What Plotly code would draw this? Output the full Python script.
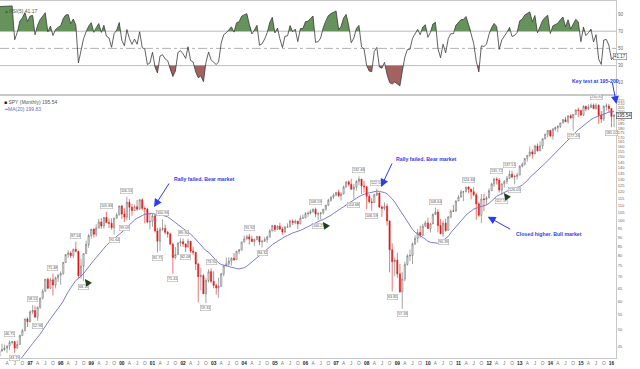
import numpy as np
import pandas as pd
import plotly.graph_objects as go

# ---------------- data (SPY monthly, dividend-adjusted) ----------------
months = pd.date_range("1995-01-01", periods=254, freq="MS")

opens = [
    30.95, 31.71, 32.90, 33.87, 34.90, 36.22, 37.04, 38.31, 38.38, 39.97, 39.83, 41.53,
    42.31, 43.76, 44.12, 44.54, 45.14, 46.17, 46.41, 44.54, 45.57, 48.25, 49.72, 53.60,
    52.66, 56.05, 56.54, 54.21, 57.70, 61.16, 63.91, 69.00, 65.12, 68.68, 66.49, 69.55,
    70.74, 71.56, 76.70, 80.65, 81.49, 80.06, 83.34, 82.41, 70.46, 74.95, 81.08, 85.99,
    90.96, 94.82, 91.82, 95.45, 99.14, 96.72, 102.06, 98.86, 98.37, 95.63, 101.67, 103.68,
    109.76, 104.31, 102.28, 112.45, 109.00, 106.69, 109.31, 107.60, 114.21, 108.17, 107.70, 99.15,
    99.62, 103.13, 93.74, 87.78, 94.59, 95.19, 92.87, 91.93, 86.15, 79.16, 80.65, 86.83,
    87.54, 86.29, 84.55, 87.78, 82.49, 81.85, 76.02, 70.10, 70.54, 62.86, 68.38, 72.38,
    68.05, 66.32, 65.28, 65.90, 71.34, 75.06, 76.01, 77.34, 78.83, 77.99, 82.37, 83.07,
    87.40, 89.13, 90.33, 88.97, 87.59, 88.76, 90.47, 87.47, 87.78, 88.72, 90.08, 93.67,
    96.95, 94.62, 96.53, 94.80, 93.13, 96.03, 96.14, 99.72, 98.84, 99.66, 98.01, 101.71,
    101.74, 104.58, 104.76, 106.05, 107.47, 104.28, 104.41, 105.07, 107.56, 110.34, 113.95, 116.11,
    117.72, 119.66, 117.19, 118.50, 123.78, 127.96, 125.98, 122.10, 123.82, 128.33, 130.21, 124.71,
    124.08, 116.77, 112.83, 112.30, 117.78, 119.17, 109.06, 108.11, 109.68, 99.84, 83.12, 77.07,
    77.86, 71.36, 63.66, 69.10, 75.76, 79.96, 80.16, 86.31, 89.41, 92.81, 91.19, 96.63,
    98.57, 95.15, 97.97, 103.96, 105.62, 97.06, 92.04, 98.48, 94.02, 102.37, 106.26, 106.25,
    113.31, 116.13, 120.11, 120.12, 123.82, 122.14, 120.17, 117.86, 111.29, 103.52, 114.80, 114.47,
    115.57, 121.00, 126.19, 130.29, 129.45, 121.47, 126.41, 128.27, 130.95, 134.36, 131.90, 132.41,
    133.63, 141.27, 143.14, 148.45, 151.45, 154.75, 152.76, 160.65, 155.79, 160.76, 168.10, 173.18,
    177.45, 171.31, 179.07, 180.49, 181.99, 186.01, 189.94, 187.47, 194.73, 192.10, 196.48, 202.00,
    201.36, 195.51, 206.66, 203.27, 205.42, 208.21, 203.83, 208.07, 195.44, 190.66, 206.69, 207.21,
    203.98, 193.72,
]
highs = [
    31.81, 33.01, 34.10, 34.92, 36.26, 37.47, 38.44, 38.66, 40.08, 40.21, 41.64, 42.73,
    43.83, 45.75, 45.54, 45.33, 46.75, 46.60, 46.50, 46.70, 48.51, 50.34, 53.67, 54.18,
    56.61, 58.51, 58.28, 57.96, 61.36, 64.91, 69.05, 69.58, 69.60, 71.48, 70.11, 71.30,
    72.49, 76.83, 80.89, 82.83, 82.35, 83.72, 87.54, 82.51, 78.56, 81.40, 88.16, 92.06,
    94.85, 95.06, 97.72, 101.13, 101.64, 102.45, 105.86, 101.47, 101.54, 101.68, 105.26, 110.03,
    110.55, 108.16, 116.53, 114.68, 111.22, 110.85, 114.08, 114.76, 115.28, 109.56, 108.43, 104.80,
    104.42, 104.03, 95.55, 96.06, 100.96, 97.62, 93.81, 92.64, 86.93, 84.62, 87.10, 89.44,
    89.30, 86.41, 89.20, 87.86, 84.91, 82.02, 76.44, 74.15, 71.24, 69.48, 73.51, 73.92,
    72.54, 67.05, 69.62, 71.89, 75.17, 79.17, 79.35, 79.14, 81.43, 82.63, 83.45, 87.45,
    91.01, 91.37, 91.92, 90.97, 89.34, 90.88, 90.60, 88.25, 90.03, 91.02, 94.80, 97.36,
    97.56, 97.20, 98.69, 95.96, 96.80, 98.37, 100.68, 100.85, 100.89, 100.12, 103.46, 103.99,
    105.72, 106.09, 107.29, 108.08, 108.59, 105.54, 105.34, 107.75, 110.68, 114.95, 116.64, 118.86,
    119.89, 121.78, 119.93, 125.17, 128.33, 129.14, 130.55, 126.34, 129.35, 132.46, 130.17, 128.78,
    124.59, 118.47, 115.38, 118.75, 122.54, 119.71, 110.21, 112.35, 111.62, 100.13, 86.60, 79.22,
    81.56, 75.95, 72.05, 77.08, 80.91, 83.36, 87.05, 91.02, 94.91, 96.89, 98.08, 99.89,
    101.98, 98.72, 104.90, 108.64, 107.54, 101.09, 100.13, 101.25, 103.07, 107.40, 110.52, 113.80,
    117.66, 121.63, 120.77, 124.03, 124.46, 122.49, 123.76, 119.42, 112.55, 118.44, 118.61, 116.71,
    122.90, 127.33, 131.26, 131.72, 131.26, 126.49, 129.46, 132.85, 137.51, 137.39, 134.08, 135.68,
    142.39, 144.68, 148.52, 151.49, 160.10, 157.30, 161.82, 163.13, 165.39, 168.91, 173.96, 177.60,
    177.88, 179.79, 181.62, 183.25, 186.15, 190.80, 193.42, 194.98, 196.65, 196.57, 202.73, 204.79,
    202.27, 208.18, 207.81, 209.41, 210.70, 210.35, 210.92, 209.40, 200.69, 208.14, 210.75, 209.98,
    204.20, 196.68,
]
lows = [
    30.94, 31.66, 32.54, 33.80, 34.70, 36.11, 36.94, 37.77, 38.24, 39.05, 39.72, 41.45,
    41.07, 43.48, 43.75, 43.19, 44.02, 45.53, 43.19, 44.40, 45.56, 48.22, 49.70, 50.91,
    52.55, 55.27, 54.13, 52.98, 57.18, 60.65, 63.77, 64.73, 64.82, 62.16, 65.08, 67.80,
    66.58, 70.91, 76.57, 78.94, 78.83, 78.94, 81.77, 69.18, 69.28, 68.12, 81.07, 84.14,
    89.29, 89.87, 90.38, 95.19, 94.96, 95.02, 98.73, 95.43, 94.38, 91.64, 101.08, 103.61,
    101.05, 99.09, 100.10, 100.49, 103.19, 106.41, 106.48, 107.38, 106.93, 98.33, 98.40, 94.61,
    96.26, 92.84, 81.71, 82.59, 93.61, 91.70, 89.79, 85.96, 71.41, 78.23, 80.39, 84.94,
    84.60, 82.08, 84.40, 81.50, 80.46, 73.11, 59.60, 64.22, 62.84, 59.31, 67.48, 67.29,
    65.10, 62.55, 61.31, 65.90, 70.27, 74.90, 75.13, 75.15, 77.60, 77.93, 80.93, 82.77,
    87.15, 88.53, 85.87, 87.56, 85.22, 88.26, 85.59, 84.32, 87.48, 86.95, 90.17, 93.84,
    93.16, 94.64, 94.11, 91.53, 92.37, 95.87, 96.23, 97.28, 97.73, 94.84, 97.76, 101.39,
    101.72, 102.50, 103.85, 104.96, 102.21, 100.23, 100.74, 104.03, 106.55, 109.74, 112.74, 114.79,
    116.73, 116.29, 113.76, 118.24, 123.39, 124.36, 121.99, 114.68, 120.95, 125.14, 118.47, 119.57,
    107.57, 111.68, 106.59, 112.63, 116.84, 108.37, 102.36, 106.70, 96.98, 72.07, 63.85, 70.25,
    69.55, 63.30, 57.18, 68.05, 75.17, 77.43, 75.95, 85.67, 87.10, 89.76, 90.76, 96.00,
    94.89, 92.69, 98.32, 104.13, 92.75, 91.80, 90.39, 93.18, 94.10, 101.65, 105.66, 106.95,
    113.20, 116.65, 113.16, 119.86, 119.13, 114.48, 117.01, 100.52, 102.57, 98.47, 106.30, 110.46,
    115.40, 121.23, 124.04, 125.75, 119.68, 117.57, 123.23, 126.15, 130.28, 131.04, 126.05, 129.77,
    133.50, 140.33, 142.00, 145.61, 150.04, 148.36, 152.86, 155.22, 156.11, 157.52, 167.54, 169.73,
    170.10, 167.37, 176.80, 175.23, 180.15, 185.56, 187.00, 185.17, 191.39, 177.26, 195.60, 192.96,
    194.82, 194.53, 200.43, 201.83, 204.32, 203.13, 202.15, 185.02, 185.89, 188.26, 201.09, 198.90,
    181.02, 181.09,
]
closes = [
    31.71, 32.90, 33.87, 34.90, 36.22, 37.04, 38.31, 38.38, 39.97, 39.83, 41.53, 42.31,
    43.76, 44.12, 44.54, 45.14, 46.17, 46.41, 44.54, 45.57, 48.25, 49.72, 53.60, 52.66,
    56.05, 56.54, 54.21, 57.70, 61.16, 63.91, 69.00, 65.12, 68.68, 66.49, 69.55, 70.74,
    71.56, 76.70, 80.65, 81.49, 80.06, 83.34, 82.41, 70.46, 74.95, 81.08, 85.99, 90.96,
    94.82, 91.82, 95.45, 99.14, 96.72, 102.06, 98.86, 98.37, 95.63, 101.67, 103.68, 109.76,
    104.31, 102.28, 112.45, 109.00, 106.69, 109.31, 107.60, 114.21, 108.17, 107.70, 99.15, 99.62,
    103.13, 93.74, 87.78, 94.59, 95.19, 92.87, 91.93, 86.15, 79.16, 80.65, 86.83, 87.54,
    86.29, 84.55, 87.78, 82.49, 81.85, 76.02, 70.10, 70.54, 62.86, 68.38, 72.38, 68.05,
    66.32, 65.28, 65.90, 71.34, 75.06, 76.01, 77.34, 78.83, 77.99, 82.37, 83.07, 87.40,
    89.13, 90.33, 88.97, 87.59, 88.76, 90.47, 87.47, 87.78, 88.72, 90.08, 93.67, 96.95,
    94.62, 96.53, 94.80, 93.13, 96.03, 96.14, 99.72, 98.84, 99.66, 98.01, 101.71, 101.74,
    104.58, 104.76, 106.05, 107.47, 104.28, 104.41, 105.07, 107.56, 110.34, 113.95, 116.11, 117.72,
    119.66, 117.19, 118.50, 123.78, 127.96, 125.98, 122.10, 123.82, 128.33, 130.21, 124.71, 124.08,
    116.77, 112.83, 112.30, 117.78, 119.17, 109.06, 108.11, 109.68, 99.84, 83.12, 77.07, 77.86,
    71.36, 63.66, 69.10, 75.76, 79.96, 80.16, 86.31, 89.41, 92.81, 91.19, 96.63, 98.57,
    95.15, 97.97, 103.96, 105.62, 97.06, 92.04, 98.48, 94.02, 102.37, 106.26, 106.25, 113.31,
    116.13, 120.11, 120.12, 123.82, 122.14, 120.17, 117.86, 111.29, 103.52, 114.80, 114.47, 115.57,
    121.00, 126.19, 130.29, 129.45, 121.47, 126.41, 128.27, 130.95, 134.36, 131.90, 132.41, 133.63,
    141.27, 143.14, 148.45, 151.45, 154.75, 152.76, 160.65, 155.79, 160.76, 168.10, 173.18, 177.45,
    171.31, 179.07, 180.49, 181.99, 186.01, 189.94, 187.47, 194.73, 192.10, 196.48, 202.00, 201.36,
    195.51, 206.66, 203.27, 205.42, 208.21, 203.83, 208.07, 195.44, 190.66, 206.69, 207.21, 203.98,
    193.72, 195.54,
]

# swing high / low labels shown on the chart (month, H=high / L=low)
swing_labels = [
    ("1996-05", "H"), ("1996-07", "L"), ("1997-02", "H"), ("1997-04", "L"), ("1997-10", "H"),
    ("1998-07", "H"), ("1998-10", "L"), ("1999-07", "H"), ("1999-10", "L"), ("2000-02", "L"),
    ("2000-03", "H"), ("2001-03", "L"), ("2001-05", "H"), ("2001-09", "L"), ("2002-01", "H"),
    ("2002-02", "L"), ("2002-10", "L"), ("2002-12", "H"), ("2004-03", "H"), ("2004-08", "L"),
    ("2006-05", "H"), ("2006-06", "L"), ("2007-08", "L"), ("2007-10", "H"), ("2008-03", "L"),
    ("2008-05", "H"), ("2008-11", "L"), ("2009-03", "L"), ("2010-04", "H"), ("2010-07", "L"),
    ("2011-05", "H"), ("2012-04", "H"), ("2012-06", "L"), ("2012-09", "H"), ("2012-11", "L"),
    ("2014-10", "L"), ("2015-07", "H"), ("2016-01", "L"),
]

price_ticks = list(range(45, 220, 5))
rsi_ticks = [10, 30, 50, 70, 90]
month_letters = {4: "A", 7: "J", 10: "O"}

header_price = "SPY (Monthly) 195.54"
header_ma = "MA(20) 199.83"
header_rsi = "RSI(5) 41.17"
rsi_last_text = "41.17"
price_last_text = "195.54"

notes = [
    ("Rally failed. Bear market", 171.7, 178.5),
    ("Rally failed. Bear market", 394.0, 159.0),
    ("Closed higher. Bull market", 514.0, 234.0),
    ("Key test at 195-200", 570.0, 75.5),
]

# ---------------- derived indicators ----------------
c = np.array(closes, dtype=float)
ma20 = pd.Series(c).rolling(20).mean().to_numpy()

N = 5
d = np.diff(c)
gain = np.clip(d, 0, None)
loss = np.clip(-d, 0, None)
ag = np.full(len(c), np.nan)
al = np.full(len(c), np.nan)
ag[N] = gain[:N].mean()
al[N] = loss[:N].mean()
for i in range(N + 1, len(c)):
    ag[i] = (ag[i - 1] * (N - 1) + gain[i - 1]) / N
    al[i] = (al[i - 1] * (N - 1) + loss[i - 1]) / N
rsi = 100 - 100 / (1 + ag / al)

x_ms = (months.astype("int64") // 10**6).to_numpy().astype(float)


def clipped(level, above):
    xs, ys = [], []
    for i in range(len(rsi)):
        if np.isnan(rsi[i]):
            continue
        if i > 0 and not np.isnan(rsi[i - 1]):
            y0, y1 = rsi[i - 1], rsi[i]
            if (y0 - level) * (y1 - level) < 0:
                t = (level - y0) / (y1 - y0)
                xs.append(x_ms[i - 1] + t * (x_ms[i] - x_ms[i - 1]))
                ys.append(level)
        xs.append(x_ms[i])
        ys.append(max(rsi[i], level) if above else min(rsi[i], level))
    return pd.to_datetime(np.array(xs), unit="ms"), ys


# ---------------- geometry helpers (pixel -> paper) ----------------
W, H = 640, 369
ML, MR, MT, MB = 0, 24, 0, 11
PW, PH = W - ML - MR, H - MT - MB


def px(xp):
    return (xp - ML) / PW


def py(yp):
    return 1 - (yp - MT) / PH


FONT = "Liberation Sans"

fig = go.Figure()

# RSI panel
for level, above, col in [(70, True, "#66925c"), (30, False, "#a3625f")]:
    xs, ys = clipped(level, above)
    fig.add_trace(go.Scatter(x=xs, y=[level] * len(ys), mode="lines",
                             line=dict(width=0, color=col), xaxis="x2", yaxis="y2",
                             hoverinfo="skip"))
    fig.add_trace(go.Scatter(x=xs, y=ys, mode="lines", fill="tonexty", fillcolor=col,
                             line=dict(width=0, color=col), xaxis="x2", yaxis="y2",
                             hoverinfo="skip"))
fig.add_trace(go.Scatter(x=months, y=rsi, mode="lines",
                         line=dict(color="#3a3a3a", width=0.8), xaxis="x2", yaxis="y2"))

# price panel
fig.add_trace(go.Candlestick(
    x=months, open=opens, high=highs, low=lows, close=closes,
    increasing=dict(line=dict(color="#6a6a6a", width=0.6), fillcolor="#ffffff"),
    decreasing=dict(line=dict(color="#e01818", width=0.6), fillcolor="#e01818"),
    whiskerwidth=0, xaxis="x", yaxis="y"))
fig.add_trace(go.Scatter(x=months, y=ma20, mode="lines",
                         line=dict(color="#6b6bc8", width=0.9), xaxis="x", yaxis="y"))

# x ticks
tick_dates = pd.date_range("1996-04-01", "2016-01-01", freq="QS-JAN")
tick_text = []
for t in tick_dates:
    if t.month == 1:
        tick_text.append("<b><span style='color:#222'>%02d</span></b>" % (t.year % 100))
    else:
        tick_text.append(month_letters[t.month])

grid = "#c8c8c8"
main_top, main_bot = 95.5, 358
rsi_top, rsi_bot = 1, 94
y_lo = np.log10(100 * np.exp(-(main_bot - 220.7) / 157.5))
y_hi = np.log10(100 * np.exp((220.7 - main_top) / 157.5))

fig.update_layout(
    width=W, height=H, margin=dict(l=ML, r=MR, t=MT, b=MB, autoexpand=False),
    paper_bgcolor="white", plot_bgcolor="white", showlegend=False,
    font=dict(family=FONT, size=5, color="#555"),
    xaxis=dict(domain=[0, 1], anchor="y", type="date", automargin=False,
               range=["1996-01-08", "2016-02-24"],
               tickvals=tick_dates, ticktext=tick_text, tickangle=0,
               tickfont=dict(size=4.8, color="#777", family=FONT),
               showgrid=False, zeroline=False, showline=True, linecolor=grid,
               mirror=True, ticks="", rangeslider=dict(visible=False)),
    yaxis=dict(domain=[py(main_bot), py(main_top)], anchor="x", type="log",
               range=[y_lo, y_hi], side="right", automargin=False,
               tickvals=price_ticks, ticktext=[str(v) for v in price_ticks],
               tickfont=dict(size=4, color="#666", family=FONT),
               showgrid=False, zeroline=False, showline=True, linecolor=grid,
               mirror=True, ticks=""),
    xaxis2=dict(domain=[0, 1], anchor="y2", type="date", matches="x", automargin=False,
                showticklabels=False, showgrid=False, zeroline=False,
                showline=True, linecolor=grid, mirror=True, ticks=""),
    yaxis2=dict(domain=[py(rsi_bot), py(rsi_top)], anchor="x2", automargin=False,
                range=[-3.0, 105.1], side="right",
                tickvals=rsi_ticks, ticktext=[str(v) for v in rsi_ticks],
                tickfont=dict(size=4.5, color="#666", family=FONT),
                showgrid=False, zeroline=False, showline=True, linecolor=grid,
                mirror=True, ticks=""),
)

# RSI reference lines
for lvl, dash, colr in [(70, "solid", "#b4b4b4"), (30, "solid", "#b4b4b4"), (50, "dashdot", "#a8a8a8")]:
    fig.add_shape(type="line", xref="x2 domain", yref="y2", x0=0, x1=1, y0=lvl, y1=lvl,
                  line=dict(color=colr, width=0.9, dash=dash), layer="below")

ann = []
# swing labels
month_index = {m.strftime("%Y-%m"): i for i, m in enumerate(months)}
for key, kind in swing_labels:
    i = month_index[key]
    val = highs[i] if kind == "H" else lows[i]
    ann.append(dict(x=months[i], y=np.log10(val), xref="x", yref="y",
                    text="%.2f" % val, showarrow=False,
                    yshift=6 if kind == "H" else -5.5,
                    font=dict(size=3.8, color="#555", family=FONT),
                    bgcolor="white", bordercolor="#b0b0b0", borderwidth=0.6, borderpad=0.3))

# headers
ann.append(dict(x=px(2), y=py(6.0), xref="paper", yref="paper", xanchor="left",
                text="<span style='color:#3d6b35'>▲</span>" + header_rsi, showarrow=False,
                font=dict(size=5, color="#555", family=FONT)))
ann.append(dict(x=px(2), y=py(97.5), xref="paper", yref="paper", xanchor="left",
                text="<span style='color:#222'>■</span> " + header_price, showarrow=False,
                font=dict(size=5, color="#555", family=FONT)))
ann.append(dict(x=px(2), y=py(103.5), xref="paper", yref="paper", xanchor="left",
                text="<span style='color:#6b6bc8'>━</span>" + header_ma, showarrow=False,
                font=dict(size=5, color="#6b6bc8", family=FONT)))

# last-value boxes on right axes
ann.append(dict(x=1.0, y=41.17, xref="paper", yref="y2", xanchor="left", xshift=-3,
                text=rsi_last_text, showarrow=False,
                font=dict(size=4.5, color="#333", family=FONT),
                bgcolor="white", bordercolor="#777", borderwidth=0.6, borderpad=0.4))
ann.append(dict(x=1.0, y=np.log10(195.54), xref="paper", yref="y", xanchor="left", xshift=0,
                text=price_last_text, showarrow=False,
                font=dict(size=4.5, color="#222", family=FONT),
                bgcolor="white", bordercolor="#555", borderwidth=0.7, borderpad=0.4))

# blue notes
for txt, xp_, yp_ in notes:
    ann.append(dict(x=px(xp_), y=py(yp_), xref="paper", yref="paper", xanchor="left",
                    text="<b>%s</b>" % txt, showarrow=False,
                    font=dict(size=5.2, color="#2a3df2", family=FONT)))

blue_arrows = [((170, 182), (154, 207)), ((392.7, 162), (381, 187)),
               ((511.7, 230), (487.7, 216.7)), ((612, 81), (616.5, 104))]
for (tx, ty), (hx, hy) in blue_arrows:
    ann.append(dict(x=px(hx), y=py(hy), xref="paper", yref="paper", text="",
                    showarrow=True, ax=tx - hx, ay=ty - hy, arrowhead=2, arrowsize=1.6,
                    arrowwidth=1, arrowcolor="#2a3df2"))

pointers = [(85, 279), (323, 222), (504, 193)]
for hx, hy in pointers:
    ann.append(dict(x=px(hx), y=py(hy), xref="paper", yref="paper", text="",
                    showarrow=True, ax=5, ay=7, arrowhead=2, arrowsize=1.0,
                    arrowwidth=1.4, arrowcolor="#1f3d1f"))

fig.update_layout(annotations=ann)
fig.write_html("out.html", config={"displayModeBar": False},
               post_script="document.body.style.margin='0';document.body.style.overflow='hidden';")
